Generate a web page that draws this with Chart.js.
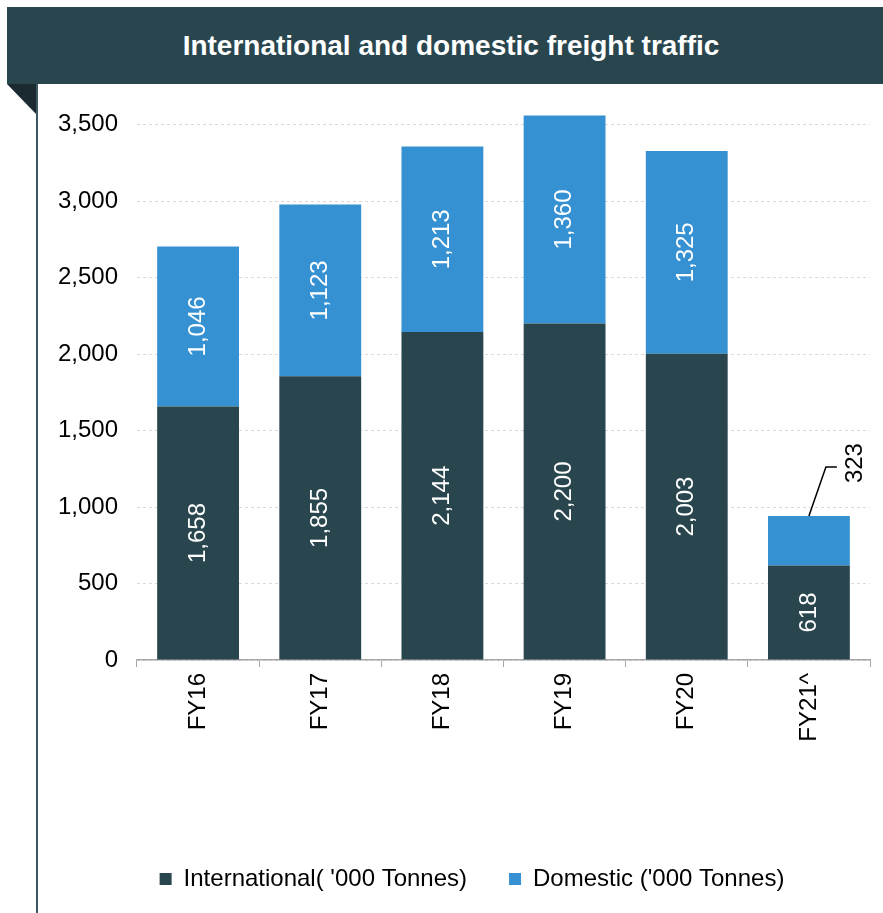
<!DOCTYPE html>
<html>
<head>
<meta charset="utf-8">
<script src="https://cdn.jsdelivr.net/npm/chart.js@4.4.0/dist/chart.umd.min.js"></script>
<style>
  html, body { margin: 0; padding: 0; background: #fff; }
  body { width: 883px; height: 913px; position: relative; overflow: hidden; font-family: "Liberation Sans", Arial, sans-serif; }
  .header { position: absolute; left: 7px; top: 7px; width: 876px; height: 77px; background: #29464f; color: #fff;
    font-weight: bold; font-size: 28px; line-height: 77px; text-align: center; box-sizing: border-box; padding-left: 12px; }
  .fold { position: absolute; left: 7px; top: 84px; width: 0; height: 0;
    border-top: 31px solid #1a2a30; border-left: 30px solid transparent; }
  .vline { position: absolute; left: 36px; top: 84px; width: 2px; height: 829px; background: #3d5862; }
  .wrap { position: absolute; left: 38px; top: 76px; width: 845px; height: 837px; }
</style>
</head>
<body>
<div class="header">International and domestic freight traffic</div>
<div class="fold"></div>
<div class="vline"></div>
<div class="wrap"><canvas id="chart"></canvas></div>
<script>
const categories = ['FY16', 'FY17', 'FY18', 'FY19', 'FY20', 'FY21^'];
const international = [1658, 1855, 2144, 2200, 2003, 618];
const domestic = [1046, 1123, 1213, 1360, 1325, 323];
const yTicks = [0, 500, 1000, 1500, 2000, 2500, 3000, 3500];

const darkTeal = '#29464f';
const blue = '#3591d1';
const fontFamily = '"Liberation Sans", Arial, sans-serif';

function fmt(v) {
    return v.toLocaleString('en-US');
}

// labels inside the bars, plus the leader line for the small FY21 domestic value
const barLabels = {
    id: 'barLabels',
    afterDatasetsDraw(chart) {
        const ctx = chart.ctx;
        ctx.save();
        ctx.font = '24px ' + fontFamily;
        ctx.textAlign = 'center';
        ctx.textBaseline = 'middle';
        chart.data.datasets.forEach((ds, di) => {
            const meta = chart.getDatasetMeta(di);
            meta.data.forEach((bar, i) => {
                const v = ds.data[i];
                if (di === 1 && i === categories.length - 1) {
                    // outside label with leader line
                    ctx.strokeStyle = '#000';
                    ctx.lineWidth = 1.5;
                    ctx.beginPath();
                    ctx.moveTo(bar.x, bar.y);
                    ctx.lineTo(bar.x + 17, bar.y - 49);
                    ctx.lineTo(bar.x + 28, bar.y - 49);
                    ctx.stroke();
                    ctx.save();
                    ctx.fillStyle = '#000';
                    ctx.translate(bar.x + 46, bar.y - 53);
                    ctx.rotate(-Math.PI / 2);
                    ctx.fillText(fmt(v), 0, 0);
                    ctx.restore();
                    return;
                }
                ctx.save();
                ctx.fillStyle = '#fff';
                ctx.translate(bar.x, (bar.y + bar.base) / 2);
                ctx.rotate(-Math.PI / 2);
                ctx.fillText(fmt(v), 0, 0);
                ctx.restore();
            });
        });
        ctx.restore();
    }
};

// the legend sits a little right of the canvas centre in the original
const legendShift = {
    id: 'legendShift',
    afterLayout(chart) {
        if (chart.legend) {
            chart.legend.left += 18;
            chart.legend.right += 18;
        }
    }
};

new Chart(document.getElementById('chart'), {
    type: 'bar',
    data: {
        labels: categories,
        datasets: [
            {
                label: "International( '000 Tonnes)",
                data: international,
                backgroundColor: darkTeal,
                barPercentage: 0.67,
                categoryPercentage: 1
            },
            {
                label: "Domestic ('000 Tonnes)",
                data: domestic,
                backgroundColor: blue,
                barPercentage: 0.67,
                categoryPercentage: 1
            }
        ]
    },
    options: {
        responsive: true,
        maintainAspectRatio: false,
        animation: false,
        layout: {
            padding: { left: 0, right: 13, top: 0, bottom: 12 }
        },
        scales: {
            x: {
                stacked: true,
                grid: {
                    drawOnChartArea: false,
                    drawTicks: true,
                    tickLength: 7,
                    color: '#a6a6a6'
                },
                border: { display: true, color: '#a6a6a6', width: 1.5 },
                ticks: {
                    color: '#000',
                    font: { family: fontFamily, size: 24 },
                    minRotation: 90,
                    maxRotation: 90,
                    padding: 6
                },
                afterFit(scale) {
                    scale.height = 165;
                }
            },
            y: {
                stacked: true,
                min: 0,
                max: 3600,
                afterBuildTicks(scale) {
                    scale.ticks = yTicks.map(v => ({ value: v }));
                },
                grid: {
                    color: '#d9d9d9',
                    drawTicks: false
                },
                border: { display: false, dash: [3, 3] },
                ticks: {
                    color: '#000',
                    font: { family: fontFamily, size: 24 },
                    padding: 19,
                    callback: v => fmt(v)
                },
                afterFit(scale) {
                    scale.width = 99;
                }
            }
        },
        plugins: {
            legend: {
                position: 'bottom',
                labels: {
                    color: '#000',
                    font: { family: fontFamily, size: 24 },
                    boxWidth: 12,
                    boxHeight: 12,
                    padding: 42
                }
            },
            tooltip: { enabled: false }
        }
    },
    plugins: [barLabels, legendShift]
});
</script>
</body>
</html>
